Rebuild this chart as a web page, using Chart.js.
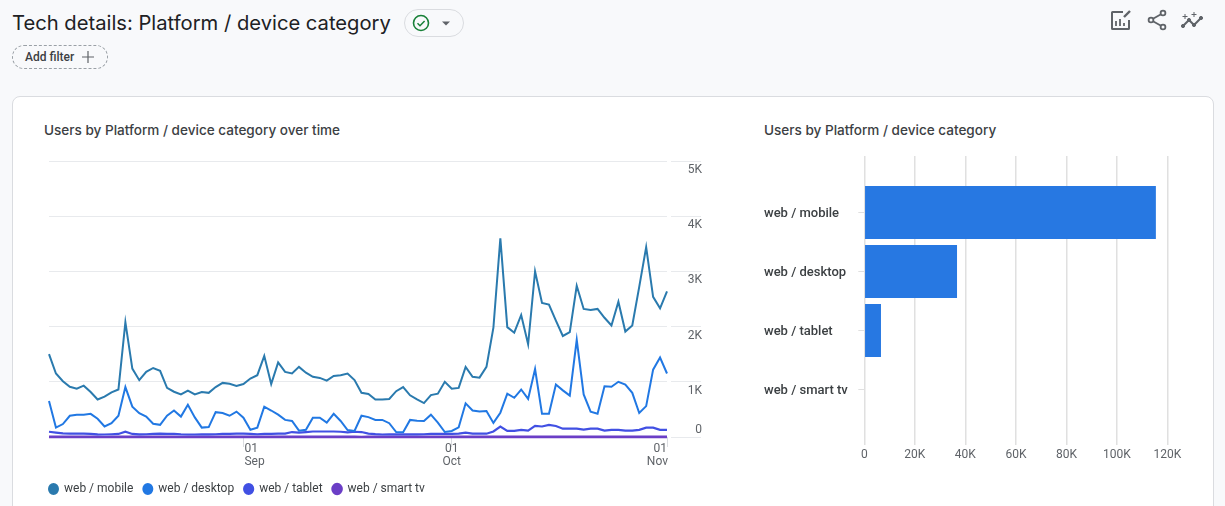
<!DOCTYPE html>
<html>
<head>
<meta charset="utf-8">
<script src="https://cdn.jsdelivr.net/npm/chart.js@4"></script>
<style>
  html, body { margin: 0; width: 1225px; height: 506px; overflow: hidden; background: #f8f9fb; font-family: Roboto, sans-serif; }
  h1 { position: absolute; left: 12px; top: 9px; margin: 0; font-family: Inter, sans-serif; font-size: 20.2px; font-weight: 400; line-height: 28px; color: #202124; white-space: nowrap; }
  .status { position: absolute; left: 404px; top: 9px; width: 58px; height: 26px; border: 1px solid #dadce0; border-radius: 14px; }
  .filter { position: absolute; left: 12px; top: 45px; width: 94px; height: 22px; border: 1px dashed #9aa0a6; border-radius: 12px; font-size: 12px; font-weight: 500; line-height: 22px; color: #3c4043; }
  .filter span { position: absolute; left: 12px; }
  .card { position: absolute; left: 12px; top: 96px; width: 1200px; height: 430px; background: #fff; border: 1px solid #dadce0; border-radius: 8px; }
  .title { position: absolute; top: 122px; font-family: Inter, sans-serif; font-size: 13.55px; font-weight: 500; line-height: 17px; color: #3c4043; white-space: nowrap; }
  canvas { position: absolute; }
  svg { position: absolute; }
</style>
</head>
<body>
<h1>Tech details: Platform / device category</h1>
<div class="status"></div>
<svg style="left:411px;top:13px" width="46" height="20" fill="none">
  <circle cx="10" cy="10" r="7.5" stroke="#188038" stroke-width="1.6"/>
  <path d="M6.5 10.2l2.5 2.5 4.6-4.8" stroke="#188038" stroke-width="1.5"/>
  <path d="M31 8.5h8l-4 4z" fill="#5f6368"/>
</svg>
<div class="filter"><span>Add filter</span></div>
<svg style="left:81px;top:50px" width="14" height="14" fill="none"><path d="M7 1v12M1 7h12" stroke="#5f6368" stroke-width="1.2"/></svg>
<svg style="left:1108px;top:8px" width="24" height="24" fill="none" stroke="#5f6368">
  <path d="M21 12v8.5a.5.5 0 0 1-.5.5h-16a.5.5 0 0 1-.5-.5v-16a.5.5 0 0 1 .5-.5H15" stroke-width="2"/>
  <path d="M8 18v-5M12 18v-7M16 18v-3" stroke-width="1.8"/>
  <path d="M16 9l6-6" stroke-width="2.4"/>
</svg>
<svg style="left:1145px;top:8px" width="24" height="24" fill="none" stroke="#5f6368" stroke-width="1.8">
  <circle cx="18" cy="5" r="2.4"/><circle cx="6" cy="12" r="2.4"/><circle cx="18" cy="19" r="2.4"/>
  <path d="M8 10.8l8-4.6M8 13.2l8 4.6"/>
</svg>
<svg style="left:1180px;top:8px" width="26" height="24" fill="none" stroke="#5f6368">
  <path d="M3 18l6-6 5 5 7-7" stroke-width="2"/>
  <circle cx="3" cy="18" r="1.6" fill="#5f6368"/><circle cx="9" cy="12" r="1.6" fill="#5f6368"/><circle cx="14" cy="17" r="1.6" fill="#5f6368"/><circle cx="21" cy="10" r="1.6" fill="#5f6368"/>
  <path d="M5 6v5M2.5 8.5h5M14 4v5M11.5 6.5h5" stroke-width="1"/>
</svg>
<div class="card"></div>
<div class="title" style="left:44px">Users by Platform / device category over time</div>
<div class="title" style="left:764px">Users by Platform / device category</div>
<canvas id="lineChart" width="720" height="356" style="left:0;top:150px"></canvas>
<canvas id="barChart" width="470" height="320" style="left:740px;top:150px"></canvas>
<script>
var days = [
  "Aug 04","Aug 05","Aug 06","Aug 07","Aug 08","Aug 09","Aug 10","Aug 11","Aug 12","Aug 13","Aug 14","Aug 15","Aug 16","Aug 17",
  "Aug 18","Aug 19","Aug 20","Aug 21","Aug 22","Aug 23","Aug 24","Aug 25","Aug 26","Aug 27","Aug 28","Aug 29","Aug 30","Aug 31",
  "Sep 01","Sep 02","Sep 03","Sep 04","Sep 05","Sep 06","Sep 07","Sep 08","Sep 09","Sep 10","Sep 11","Sep 12","Sep 13","Sep 14","Sep 15",
  "Sep 16","Sep 17","Sep 18","Sep 19","Sep 20","Sep 21","Sep 22","Sep 23","Sep 24","Sep 25","Sep 26","Sep 27","Sep 28","Sep 29","Sep 30",
  "Oct 01","Oct 02","Oct 03","Oct 04","Oct 05","Oct 06","Oct 07","Oct 08","Oct 09","Oct 10","Oct 11","Oct 12","Oct 13","Oct 14","Oct 15","Oct 16",
  "Oct 17","Oct 18","Oct 19","Oct 20","Oct 21","Oct 22","Oct 23","Oct 24","Oct 25","Oct 26","Oct 27","Oct 28","Oct 29","Oct 30","Oct 31","Nov 01"
];
var tickDays = ["Sep 01", "Oct 01", "Nov 01"];
var mobile = [
  1500,1150,1010,910,875,930,815,680,730,810,860,2080,1240,1030,
  1180,1250,1200,890,820,770,840,770,815,800,905,980,965,925,
  960,1060,1120,1470,960,1350,1180,1150,1270,1165,1090,1070,1020,1105,1120,
  1150,1030,800,780,680,680,690,830,905,755,680,615,760,785,1000,
  875,890,1270,1090,1075,1270,1980,3600,1990,1890,2210,1680,3000,2430,2400,2110,
  1830,1900,2740,2320,2300,2320,2160,2020,2450,1910,2020,2720,3440,2540,2330,2640
];
var desktop = [
  650,170,235,385,405,405,420,330,190,250,385,905,550,430,
  370,240,220,385,480,370,585,355,170,180,450,435,385,460,
  350,130,170,550,480,405,310,290,115,130,350,350,260,420,290,
  125,110,385,360,310,310,250,90,85,310,295,290,405,260,90,
  110,175,610,480,460,470,255,440,785,710,860,690,1230,420,420,950,
  845,750,1760,770,460,420,920,910,1000,950,800,435,560,1220,1440,1150
];
var tablet = [
  95,80,65,60,60,60,55,48,45,50,55,95,55,48,
  50,55,60,58,55,48,45,45,48,48,50,55,58,60,
  62,58,50,55,58,62,62,90,80,90,100,100,100,100,95,
  85,95,90,62,52,45,46,46,46,48,48,50,55,58,58,
  58,60,80,62,60,60,100,190,110,110,130,115,200,190,220,200,
  150,150,150,135,150,150,115,130,130,115,115,130,170,170,130,130
];
var smartTv = [
  3,2,2,3,2,2,3,2,1,2,2,4,2,2,
  3,2,2,3,2,1,2,2,3,2,2,3,2,2,
  3,2,2,3,2,2,3,2,2,3,2,2,3,2,2,
  3,2,1,2,2,3,2,2,3,2,2,3,2,2,3,
  2,2,3,2,2,3,2,4,3,2,3,2,4,3,3,2,
  3,2,3,2,3,2,2,3,2,2,3,2,3,3,2,2
];
var platforms = ["web / mobile", "web / desktop", "web / tablet", "web / smart tv"];
var platformUsers = [115400, 36700, 6600, 0];
var lineTicks = [0, 1000, 2000, 3000, 4000, 5000];
var barTicks = [0, 20000, 40000, 60000, 80000, 100000, 120000];

var seriesColors = ["#2a7aae", "#2178e3", "#4150e3", "#6b3ec6"];
var gridColor = "#e8eaed";
var barGridColor = "#e0e0e0";
var textColor = "#5f6368";
var fontFamily = "Roboto, sans-serif";

function shortK(v) {
  return v === 0 ? "0" : (v / 1000) + "K";
}

function lineDataset(label, values, color, width) {
  return { label: label, data: values, borderColor: color, backgroundColor: color, borderWidth: width, pointRadius: 0, tension: 0, clip: false };
}

// "01 / Sep" under each month tick: first hangs right of the tick, middle is centred, last ends at the plot edge
var monthLabels = {
  id: "monthLabels",
  afterLayout: function (chart) {
    chart.legend.left = chart.chartArea.left - chart.legend.options.labels.padding;
  },
  afterDraw: function (chart) {
    var ctx = chart.ctx, x = chart.scales.x;
    var anchors = ["left", "center", "right"];
    ctx.save();
    ctx.fillStyle = textColor;
    ctx.font = "12px " + fontFamily;
    ctx.textBaseline = "middle";
    tickDays.forEach(function (d, i) {
      var px = x.getPixelForValue(days.indexOf(d));
      ctx.textAlign = anchors[i];
      ctx.fillText(d.slice(4), px + (i === 0 ? 1 : 0), chart.chartArea.bottom + 12);
      ctx.fillText(d.slice(0, 3), px + (i === 1 ? 0 : 1), chart.chartArea.bottom + 25);
    });
    ctx.restore();
  }
};

new Chart(document.getElementById("lineChart").getContext("2d"), {
  type: "line",
  data: {
    labels: days,
    datasets: [
      lineDataset(platforms[0], mobile, seriesColors[0], 2),
      lineDataset(platforms[1], desktop, seriesColors[1], 2),
      lineDataset(platforms[2], tablet, seriesColors[2], 2.2),
      lineDataset(platforms[3], smartTv, seriesColors[3], 2.6)
    ]
  },
  options: {
    responsive: false,
    animation: false,
    layout: { padding: { left: 49, top: 11, right: 18, bottom: 1 } },
    plugins: {
      tooltip: { enabled: false },
      legend: {
        position: "bottom",
        align: "start",
        labels: { usePointStyle: true, pointStyle: "circle", pointStyleWidth: 9, boxHeight: 7, color: "#3c4043", padding: 10, font: { family: fontFamily, size: 12 } }
      }
    },
    scales: {
      x: {
        type: "category",
        offset: false,
        afterBuildTicks: function (scale) {
          scale.ticks = scale.ticks.filter(function (t) { return tickDays.indexOf(days[t.value]) >= 0; });
        },
        afterFit: function (scale) { scale.height = 36; },
        border: { display: false },
        grid: { drawOnChartArea: false, color: "#dadce0", tickLength: 10 },
        ticks: { display: false, autoSkip: false, maxRotation: 0 }
      },
      y: {
        position: "right",
        min: 0,
        max: 5000,
        afterBuildTicks: function (scale) {
          scale.ticks = lineTicks.map(function (v) { return { value: v }; });
        },
        afterFit: function (scale) { scale.width = 35; },
        border: { display: false },
        grid: { color: gridColor, tickColor: gridColor, tickLength: 34, tickBorderDash: [0, 4, 30, 100] },
        ticks: {
          color: textColor,
          font: { family: fontFamily, size: 12, lineHeight: 1.3 },
          crossAlign: "far",
          labelOffset: 9,
          callback: function (v) { return v === 0 ? ["0", "", ""] : shortK(v); }
        }
      }
    }
  },
  plugins: [monthLabels]
});

// the value grid runs a bit above the first bar's band
var gridAbove = {
  id: "gridAbove",
  beforeDatasetsDraw: function (chart) {
    var ctx = chart.ctx, x = chart.scales.x, top = chart.chartArea.top;
    ctx.save();
    ctx.strokeStyle = barGridColor;
    ctx.lineWidth = 1.5;
    barTicks.forEach(function (v) {
      var px = Math.round(x.getPixelForValue(v) - 0.75) + 0.75;
      ctx.beginPath();
      ctx.moveTo(px, top - 27);
      ctx.lineTo(px, top);
      ctx.stroke();
    });
    ctx.restore();
  }
};

new Chart(document.getElementById("barChart").getContext("2d"), {
  type: "bar",
  data: {
    labels: platforms,
    datasets: [{ label: "Users", data: platformUsers, backgroundColor: "#2778e2", barPercentage: 0.9, categoryPercentage: 1 }]
  },
  options: {
    indexAxis: "y",
    responsive: false,
    animation: false,
    layout: { padding: { left: 24, top: 33, right: 42.5, bottom: 0 } },
    plugins: { legend: { display: false }, tooltip: { enabled: false } },
    scales: {
      x: {
        min: 0,
        max: 120000,
        afterBuildTicks: function (scale) {
          scale.ticks = barTicks.map(function (v) { return { value: v }; });
        },
        afterFit: function (scale) { scale.height = 51; },
        border: { display: false },
        grid: { color: barGridColor, tickColor: barGridColor, lineWidth: 1.5, tickLength: 26 },
        ticks: { color: textColor, font: { family: fontFamily, size: 12 }, padding: 3, maxRotation: 0, callback: shortK }
      },
      y: {
        afterFit: function (scale) { scale.width = 100.3; },
        border: { display: false },
        grid: { drawOnChartArea: false, offset: false, color: barGridColor, tickLength: 6 },
        ticks: { color: "#3c4043", font: { family: fontFamily, size: 13, weight: "500" }, crossAlign: "far", labelOffset: 1 }
      }
    }
  },
  plugins: [gridAbove]
});
</script>
</body>
</html>
